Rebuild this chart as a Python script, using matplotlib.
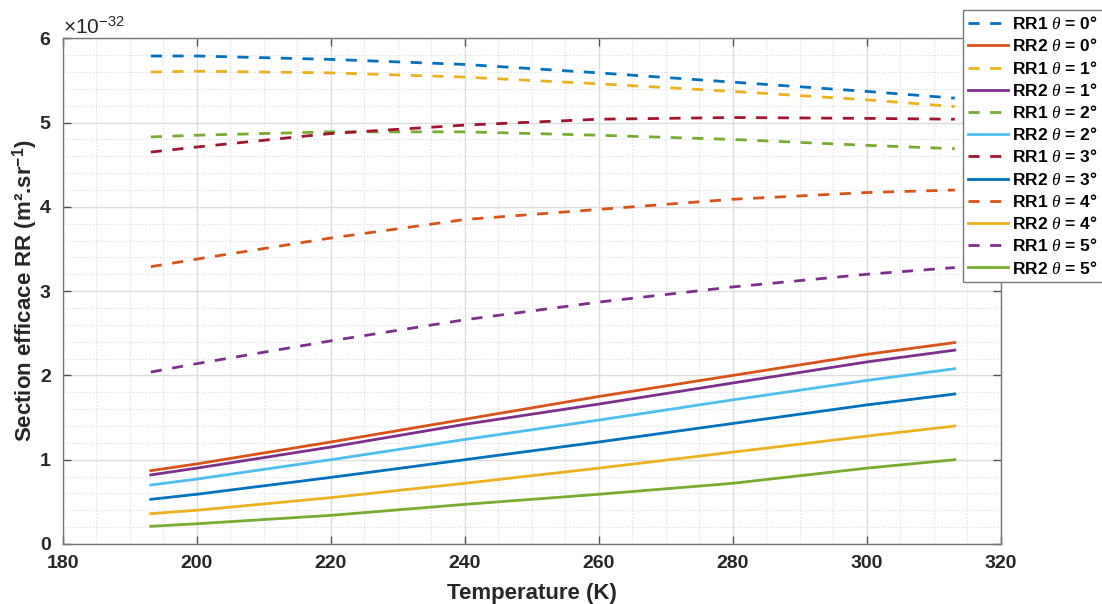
import numpy as np
import matplotlib
matplotlib.use("Agg")
import matplotlib.pyplot as plt
from matplotlib.ticker import MultipleLocator

# temperatures (K) where values were read
temperature = [193.15, 200, 220, 240, 260, 280, 300, 313.15]

# RR1 (dashed), units of 1e-32 m^2.sr^-1
rr1_t0 = [5.79, 5.79, 5.75, 5.69, 5.59, 5.48, 5.37, 5.29]
rr1_t1 = [5.60, 5.61, 5.59, 5.54, 5.46, 5.37, 5.27, 5.19]
rr1_t2 = [4.83, 4.85, 4.89, 4.89, 4.85, 4.80, 4.73, 4.69]
rr1_t3 = [4.65, 4.71, 4.87, 4.97, 5.04, 5.06, 5.05, 5.04]
rr1_t4 = [3.29, 3.38, 3.63, 3.85, 3.97, 4.09, 4.17, 4.20]
rr1_t5 = [2.04, 2.14, 2.41, 2.66, 2.87, 3.05, 3.20, 3.28]

# RR2 (solid)
rr2_t0 = [0.87, 0.95, 1.21, 1.48, 1.75, 2.00, 2.25, 2.39]
rr2_t1 = [0.82, 0.90, 1.15, 1.42, 1.66, 1.91, 2.16, 2.30]
rr2_t2 = [0.70, 0.77, 1.00, 1.24, 1.47, 1.71, 1.94, 2.08]
rr2_t3 = [0.53, 0.59, 0.79, 1.00, 1.21, 1.43, 1.65, 1.78]
rr2_t4 = [0.36, 0.40, 0.55, 0.72, 0.90, 1.09, 1.28, 1.40]
rr2_t5 = [0.21, 0.24, 0.34, 0.47, 0.59, 0.72, 0.90, 1.00]

angles = [0, 1, 2, 3, 4, 5]
rr1 = [rr1_t0, rr1_t1, rr1_t2, rr1_t3, rr1_t4, rr1_t5]
rr2 = [rr2_t0, rr2_t1, rr2_t2, rr2_t3, rr2_t4, rr2_t5]

# matlab default colour order
matlab_colors = ['#0072BD', '#D95319', '#EDB120', '#7E2F8E',
                 '#77AC30', '#4DBEEE', '#A2142F']

plt.rcParams['font.family'] = ['Liberation Sans', 'DejaVu Sans']
plt.rcParams['mathtext.fontset'] = 'custom'
plt.rcParams['mathtext.rm'] = 'Liberation Sans'
plt.rcParams['mathtext.it'] = 'Liberation Serif:italic'
plt.rcParams['mathtext.bf'] = 'Liberation Sans:bold'

fig = plt.figure(figsize=(11.02, 6.04), dpi=100)
ax = fig.add_axes([62.7/1102, 1-544/604, (1000.7-62.7)/1102, (544-38.3)/604])

T = np.array(temperature)
k = 0
for i, a in enumerate(angles):
    ax.plot(T, np.array(rr1[i])*1e-32, color=matlab_colors[k % 7], lw=2.0,
            dashes=(4.0, 3.8), label=rf'RR1 $\theta$ = {a}°')
    k += 1
    ax.plot(T, np.array(rr2[i])*1e-32, color=matlab_colors[k % 7], lw=2.0,
            label=rf'RR2 $\theta$ = {a}°')
    k += 1

ax.set_xlim(180, 320)
ax.set_ylim(0, 6e-32)
ax.xaxis.set_major_locator(MultipleLocator(20))
ax.xaxis.set_minor_locator(MultipleLocator(5))
ax.yaxis.set_major_locator(MultipleLocator(1e-32))
ax.yaxis.set_minor_locator(MultipleLocator(0.2e-32))
ax.ticklabel_format(axis='y', style='sci', scilimits=(0, 0), useMathText=True)
ax.yaxis.get_offset_text().set_fontsize(15)
ax.yaxis.get_offset_text().set_color('#262626')

ax.grid(True, which='major', color='#dcdcdc', lw=1.0)
ax.grid(True, which='minor', color='#dcdcdc', lw=0.8, linestyle=':')
ax.set_axisbelow(True)
ax.tick_params(which='major', direction='in', top=True, right=True,
               length=6, width=1, color='#555555', labelsize=14, pad=8)
ax.tick_params(which='minor', length=0)
for lab in ax.get_xticklabels() + ax.get_yticklabels():
    lab.set_fontweight('bold')
    lab.set_color('#262626')
for sp in ax.spines.values():
    sp.set_color('#777777')
    sp.set_linewidth(1.0)

ax.set_xlabel('Temperature (K)', fontsize=16, fontweight='bold', color='#262626', labelpad=8)
ax.set_ylabel(r'Section efficace RR (m².sr$^{\mathbf{-1}}$)', fontsize=16,
              fontweight='bold', color='#262626', labelpad=-1)

leg = fig.legend(loc='upper left', bbox_to_anchor=(962.7/1102, 1-10/604),
                 borderaxespad=0, fancybox=False, framealpha=1,
                 edgecolor='#777777', handlelength=2.3, handletextpad=0.25,
                 labelspacing=0.3, borderpad=0.3,
                 prop={'weight': 'bold', 'size': 12.5})
leg.get_frame().set_linewidth(1.0)

fig.savefig('out.png', dpi=100)
